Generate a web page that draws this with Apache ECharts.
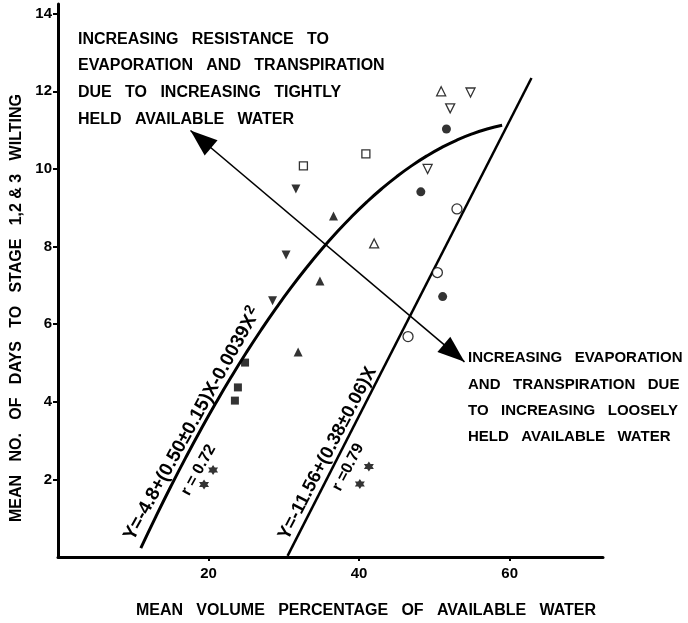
<!DOCTYPE html>
<html>
<head>
<meta charset="utf-8">
<script src="https://cdn.jsdelivr.net/npm/echarts@6/dist/echarts.min.js"></script>
<style>
  html, body { margin: 0; padding: 0; background: #fff; }
  #chart { width: 688px; height: 623px; }
</style>
</head>
<body>
<div id="chart"></div>
<script>
// Axis ticks
const xTicks = [20, 40, 60];
const yTicks = [2, 4, 6, 8, 10, 12, 14];

// Observations: [mean volume % of available water, mean days to wilting]
const filledCircle   = [[51.6, 11.03], [48.2, 9.41], [51.1, 6.71]];
const openCircle     = [[53.0, 8.97], [50.4, 7.33], [46.5, 5.68]];
const filledTriUp    = [[36.6, 8.79], [34.8, 7.11], [31.9, 5.28]];
const filledTriDown  = [[31.6, 9.48], [30.3, 7.78], [28.5, 6.60]];
const openTriUp      = [[50.9, 12.0], [42.0, 8.08]];
const openTriDown    = [[54.8, 11.97], [52.1, 11.56], [49.1, 10.0]];
const openSquare     = [[40.9, 10.39], [32.6, 10.08]];
const filledSquare   = [[24.85, 5.01], [23.9, 4.37], [23.5, 4.03]];
const starPoints     = [[20.6, 2.24], [19.4, 1.87], [41.3, 2.33], [40.1, 1.88]];

// Fitted relations as printed on the curves
const quadCoef  = [-4.8, 0.50, -0.0039];   // Y = a + bX + cX^2
const quadXs    = [11, 13, 15, 17, 19, 21, 23, 25, 27, 29, 31, 33, 35, 37, 39, 41, 43, 45, 47, 49, 51, 53, 55, 57, 59];
const linCoef   = [-11.56, 0.38];          // Y = a + bX
const linXs     = [30.5, 62.9];

// Double-headed arrow endpoints (data units)
const arrowEnds = [[17.6, 10.99], [54.0, 5.03]];

const quadLine = quadXs.map(x => [x, quadCoef[0] + quadCoef[1] * x + quadCoef[2] * x * x]);
const linLine  = linXs.map(x => [x, linCoef[0] + linCoef[1] * x]);

const FONT = '"Liberation Sans", Arial, Helvetica, sans-serif';
const STAR = 'path://M0,-10L2.9,-5L8.66,-5L5.8,0L8.66,5L2.9,5L0,10L-2.9,5L-8.66,5L-5.8,0L-8.66,-5L-2.9,-5Z';

function pts(name, data, symbol, size, filled, rotate) {
  return {
    name, type: 'scatter', data, symbol, symbolSize: size,
    symbolRotate: rotate || 0, z: 5,
    itemStyle: filled
      ? { color: '#000', borderWidth: 0 }
      : { color: '#fff', borderColor: '#000', borderWidth: 1.3 },
    emphasis: { disabled: true }
  };
}

const chart = echarts.init(document.getElementById('chart'), null, { renderer: 'canvas' });

chart.setOption({
  animation: false,
  backgroundColor: '#fff',
  grid: { left: 58, right: 85, top: 4, bottom: 66, containLabel: false },
  xAxis: {
    type: 'value', min: 0, max: 72.4,
    splitLine: { show: false },
    axisLine: { lineStyle: { color: '#000', width: 3 } },
    axisTick: { show: true, length: 4, lineStyle: { color: '#000', width: 2 }, customValues: xTicks },
    axisLabel: { customValues: xTicks, color: '#000', fontFamily: FONT, fontWeight: 'bold', fontSize: 15, margin: 9 }
  },
  yAxis: {
    type: 'value', min: 0, max: 14.25,
    splitLine: { show: false },
    axisLine: { lineStyle: { color: '#000', width: 3 } },
    axisTick: { show: true, length: 5, lineStyle: { color: '#000', width: 2 }, customValues: yTicks },
    axisLabel: { customValues: yTicks, color: '#000', fontFamily: FONT, fontWeight: 'bold', fontSize: 15, margin: 6 }
  },
  series: [
    {
      name: 'quadratic fit', type: 'line', data: quadLine, smooth: true, showSymbol: false, z: 3,
      lineStyle: { color: '#000', width: 3 }, emphasis: { disabled: true }
    },
    {
      name: 'linear fit', type: 'line', data: linLine, showSymbol: false, z: 3,
      lineStyle: { color: '#000', width: 2.5 }, emphasis: { disabled: true }
    },
    pts('filled circle', filledCircle, 'circle', 9, true),
    pts('open circle', openCircle, 'circle', 10, false),
    pts('filled triangle', filledTriUp, 'triangle', 9, true),
    pts('filled inverted triangle', filledTriDown, 'triangle', 9, true, 180),
    pts('open triangle', openTriUp, 'triangle', 9, false),
    pts('open inverted triangle', openTriDown, 'triangle', 9, false, 180),
    pts('open square', openSquare, 'rect', 8, false),
    pts('filled square', filledSquare, 'rect', 8, true),
    pts('star', starPoints, STAR, 10, true)
  ]
});

// Annotations placed from data coordinates
function px(p) { return chart.convertToPixel({ gridIndex: 0 }, p); }

function head(tip, from, len, wid) {
  const dx = tip[0] - from[0], dy = tip[1] - from[1];
  const L = Math.hypot(dx, dy), ux = dx / L, uy = dy / L;
  const bx = tip[0] - ux * len, by = tip[1] - uy * len;
  return [tip, [bx - uy * wid / 2, by + ux * wid / 2], [bx + uy * wid / 2, by - ux * wid / 2]];
}

const a0 = px(arrowEnds[0]), a1 = px(arrowEnds[1]);

function rotText(pos, deg, rich, content) {
  const p = px(pos);
  return {
    type: 'text', x: p[0], y: p[1], rotation: deg * Math.PI / 180, z: 10,
    style: { text: content, rich, align: 'center', verticalAlign: 'middle', fill: '#000' }
  };
}

const eqRich = {
  a: { fontFamily: FONT, fontWeight: 'bold', fontSize: 19, fill: '#000' },
  b: { fontFamily: FONT, fontWeight: 'bold', fontSize: 18.5, fill: '#000' },
  r: { fontFamily: FONT, fontWeight: 'bold', fontSize: 16, fill: '#000' },
  s: { fontFamily: FONT, fontWeight: 'bold', fontSize: 14, fill: '#000', verticalAlign: 'top', padding: [0, 0, 10, 1] }
};

const gap = '   ';
chart.setOption({
  graphic: [
    { type: 'line', z: 8, shape: { x1: a0[0], y1: a0[1], x2: a1[0], y2: a1[1] }, style: { stroke: '#000', lineWidth: 1.6 } },
    { type: 'polygon', z: 9, shape: { points: head(a0, a1, 27, 20) }, style: { fill: '#000' } },
    { type: 'polygon', z: 9, shape: { points: head(a1, a0, 27, 20) }, style: { fill: '#000' } },

    { type: 'text', x: 78, y: 26, z: 10,
      style: { text: ['INCREASING', 'RESISTANCE', 'TO'].join(gap) + '\n' +
                     ['EVAPORATION', 'AND', 'TRANSPIRATION'].join(gap) + '\n' +
                     ['DUE', 'TO', 'INCREASING', 'TIGHTLY'].join(gap) + '\n' +
                     ['HELD', 'AVAILABLE', 'WATER'].join(gap),
               font: 'bold 16px ' + FONT, fill: '#000', lineHeight: 26.6, verticalAlign: 'top' } },
    { type: 'text', x: 468, y: 345, z: 10,
      style: { text: ['INCREASING', 'EVAPORATION'].join(gap) + '\n' +
                     ['AND', 'TRANSPIRATION', 'DUE'].join(gap) + '\n' +
                     ['TO', 'INCREASING', 'LOOSELY'].join(gap) + '\n' +
                     ['HELD', 'AVAILABLE', 'WATER'].join(gap),
               font: 'bold 15px ' + FONT, fill: '#000', lineHeight: 26.3, verticalAlign: 'top' } },

    rotText([17.86, 3.43], 61, eqRich, '{a|Y=-4.8+(0.50±0.15)X-0.0039X}{s|2}'),
    rotText([18.67, 2.24], 61, eqRich, '{r|r = 0.72}'),
    rotText([35.8, 2.67], 62.5, eqRich, '{b|Y=-11.56+(0.38±0.06)X}'),
    rotText([38.54, 2.31], 62.5, eqRich, '{r|r =0.79}'),

    { type: 'text', x: 17, y: 308, rotation: Math.PI / 2, z: 10,
      style: { text: ['MEAN', 'NO.', 'OF', 'DAYS', 'TO', 'STAGE', '1,2 & 3', 'WILTING'].join('   '),
               font: 'bold 16px ' + FONT, fill: '#000', align: 'center', verticalAlign: 'middle' } },
    { type: 'text', x: 366, y: 611, z: 10,
      style: { text: ['MEAN', 'VOLUME', 'PERCENTAGE', 'OF', 'AVAILABLE', 'WATER'].join(gap),
               font: 'bold 16px ' + FONT, fill: '#000', align: 'center', verticalAlign: 'middle' } }
  ]
});
</script>
</body>
</html>
